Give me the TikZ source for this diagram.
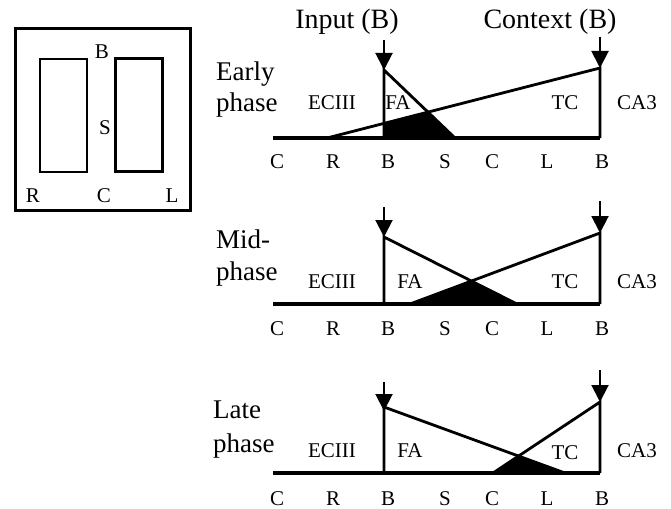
\documentclass[tikz,border=0pt]{standalone}
\usepackage{fontspec}
\setmainfont{Liberation Serif}
\usetikzlibrary{arrows.meta}
\begin{document}
\begin{tikzpicture}[x=1pt,y=-1pt,
  lbl/.style={font=\fontsize{21}{21}\selectfont, inner sep=0pt, anchor=base},
  title/.style={font=\fontsize{28}{28}\selectfont, inner sep=0pt, anchor=base},
  side/.style={font=\fontsize{27}{27}\selectfont, inner sep=0pt, anchor=base west},
  axis/.style={line width=3.5pt},
  edge/.style={line width=2.8pt, line join=miter},
  cue/.style={line width=2pt, -{Triangle[length=17pt,width=17pt]}},
  overlap/.style={fill=black},
  wall/.style={draw, line width=3pt, inner sep=0pt},
  arm/.style={draw, line width=2.3pt, inner sep=0pt, minimum width=47pt, minimum height=113pt}
]
\useasboundingbox (0,0) rectangle (671,508);

% maze: outer wall and the two inner blocks
\node[wall, minimum width=175pt, minimum height=181pt] (arena) at (102.5,119.5) {};
\node[arm] (leftarm) at (63.5,115.5) {};
\node[arm] (rightarm) at (139,115) {};
\node[lbl] (mB) at (102,59) {B};
\node[lbl] (mS) at (105,135) {S};
\node[lbl] (mR) at (33,202) {R};
\node[lbl] (mC) at (104,202) {C};
\node[lbl] (mL) at (172,202) {L};

% ---------- early phase ----------
\coordinate (e0) at (273,138);
\coordinate (eEnd) at (600,138);
\coordinate (eB) at (384,138);
\coordinate (eFAtop) at (384,70);
\coordinate (eFAend) at (455,138);
\coordinate (eTCstart) at (327,138);
\coordinate (eTCtop) at (600,68);
\coordinate (eIn) at (384,40);
\coordinate (eCtx) at (600,37);
\fill[overlap] (eB) -- (intersection of eB--eFAtop and eTCstart--eTCtop)
  -- (intersection of eFAtop--eFAend and eTCstart--eTCtop) -- (eFAend) -- cycle;
\draw[edge] (eB) -- (eFAtop) -- (eFAend);
\draw[edge] (eTCstart) -- (eTCtop) -- (eEnd);
\draw[axis] (e0) -- (eEnd);
\draw[cue] (eIn) -- (eFAtop);
\draw[cue] (eCtx) -- (eTCtop);
\node[title] (inputT) at (347,29) {Input (B)};
\node[title] (contextT) at (550,29) {Context (B)};
\node[side] (eT1) at (216,81) {Early};
\node[side] (eT2) at (216,111) {phase};
\node[lbl] (eEC) at (332,110) {ECIII};
\node[lbl] (eFA) at (398,110) {FA};
\node[lbl] (eTC) at (565,110) {TC};
\node[lbl] (eCA) at (637,110) {CA3};
\foreach \x/\t [count=\i] in {277/C,333/R,388/B,445/S,492/C,547/L,602/B}
  \node[lbl] (eP\i) at (\x,168) {\t};

% ---------- mid-phase ----------
\coordinate (m0) at (273,304);
\coordinate (mEnd) at (600,304);
\coordinate (mB) at (384,304);
\coordinate (mFAtop) at (384,237);
\coordinate (mFAend) at (517,304);
\coordinate (mTCstart) at (410,304);
\coordinate (mTCtop) at (600,233);
\coordinate (mIn) at (384,207);
\coordinate (mCtx) at (600,201);
\fill[overlap] (mTCstart) -- (intersection of mFAtop--mFAend and mTCstart--mTCtop)
  -- (mFAend) -- cycle;
\draw[edge] (mB) -- (mFAtop) -- (mFAend);
\draw[edge] (mTCstart) -- (mTCtop) -- (mEnd);
\draw[axis] (m0) -- (mEnd);
\draw[cue] (mIn) -- (mFAtop);
\draw[cue] (mCtx) -- (mTCtop);
\node[side] (mT1) at (216,248) {Mid-};
\node[side] (mT2) at (216,280) {phase};
\node[lbl] (mEC) at (332,288) {ECIII};
\node[lbl] (mFA) at (410,288) {FA};
\node[lbl] (mTC) at (565,288) {TC};
\node[lbl] (mCA) at (637,288) {CA3};
\foreach \x/\t [count=\i] in {277/C,333/R,388/B,445/S,492/C,547/L,602/B}
  \node[lbl] (mP\i) at (\x,335) {\t};

% ---------- late phase ----------
\coordinate (l0) at (273,473);
\coordinate (lEnd) at (600,473);
\coordinate (lB) at (384,473);
\coordinate (lFAtop) at (384,407);
\coordinate (lFAend) at (565,473);
\coordinate (lTCstart) at (493,473);
\coordinate (lTCtop) at (600,402);
\coordinate (lIn) at (384,382);
\coordinate (lCtx) at (600,370);
\fill[overlap] (lTCstart) -- (intersection of lFAtop--lFAend and lTCstart--lTCtop)
  -- (lFAend) -- cycle;
\draw[edge] (lB) -- (lFAtop) -- (lFAend);
\draw[edge] (lTCstart) -- (lTCtop) -- (lEnd);
\draw[axis] (l0) -- (lEnd);
\draw[cue] (lIn) -- ([yshift=-4pt]lFAtop);
\draw[cue] (lCtx) -- (lTCtop);
\node[side] (lT1) at (213,418) {Late};
\node[side] (lT2) at (213,452) {phase};
\node[lbl] (lEC) at (332,457) {ECIII};
\node[lbl] (lFA) at (410,457) {FA};
\node[lbl] (lTC) at (565,459) {TC};
\node[lbl] (lCA) at (637,457) {CA3};
\foreach \x/\t [count=\i] in {277/C,333/R,388/B,445/S,492/C,547/L,602/B}
  \node[lbl] (lP\i) at (\x,505) {\t};
\end{tikzpicture}
\end{document}
